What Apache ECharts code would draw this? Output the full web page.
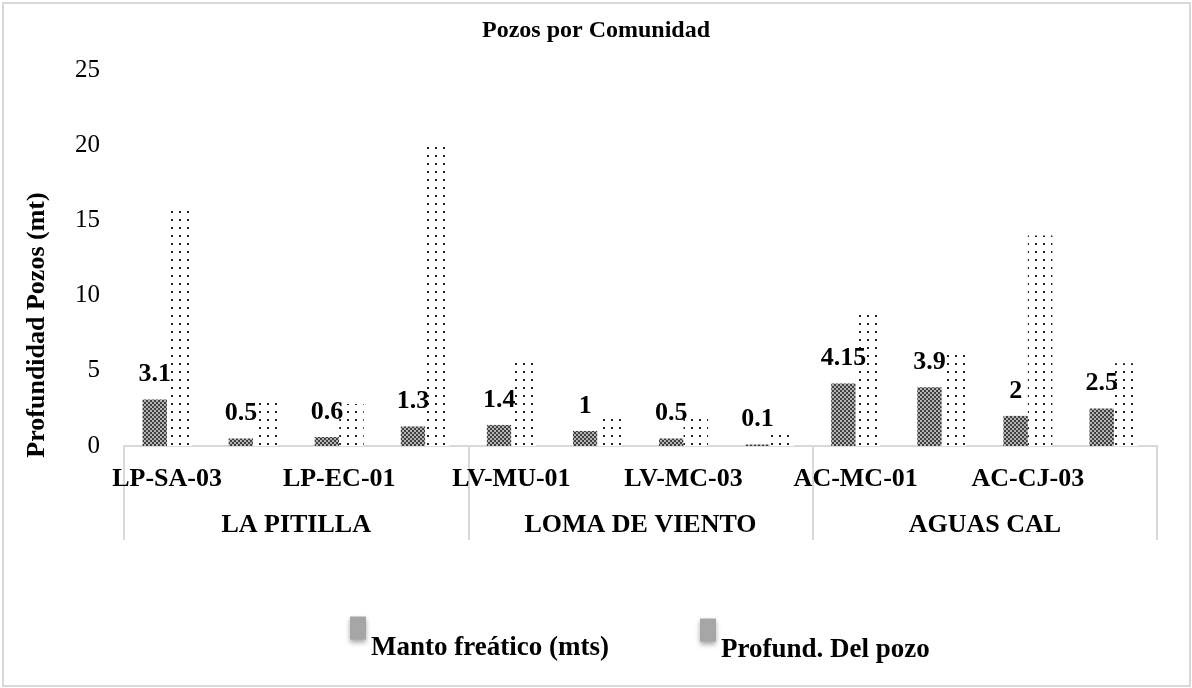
<!DOCTYPE html>
<html>
<head>
<meta charset="utf-8">
<script src="https://cdn.jsdelivr.net/npm/echarts@6/dist/echarts.min.js"></script>
<style>
  html, body { margin: 0; padding: 0; background: #fff; }
  #chart { width: 1192px; height: 688px; }
</style>
</head>
<body>
<div id="chart"></div>
<script>
// Pozos (12 categorías, sólo se ven las etiquetas alternas)
const pozos = ['LP-SA-03', 'LP-SA-04', 'LP-EC-01', 'LP-EC-02',
  'LV-MU-01', 'LV-MU-02', 'LV-MC-03', 'LV-MC-04',
  'AC-MC-01', 'AC-MC-02', 'AC-CJ-03', 'AC-CJ-04'];
// Comunidades (segundo nivel del eje)
const comunidades = ['LA PITILLA', 'LOMA DE VIENTO', 'AGUAS CAL'];
// Manto freático (mts)
const mantoFreatico = [3.1, 0.5, 0.6, 1.3, 1.4, 1, 0.5, 0.1, 4.15, 3.9, 2, 2.5];
// Profundidad del pozo
const profundPozo = [16, 3.2, 2.8, 20.2, 5.6, 1.8, 1.9, 1.0, 9.0, 6.4, 14, 5.5];
const yTicks = { min: 0, max: 25, interval: 5 };

const FONT = '"Liberation Serif", "Times New Roman", serif';

// trama cuadriculada oscura
function checkerPattern() {
  const c = document.createElement('canvas');
  c.width = 4; c.height = 4;
  const ctx = c.getContext('2d');
  ctx.fillStyle = '#3f3f3f';
  ctx.fillRect(0, 0, 4, 4);
  ctx.fillStyle = '#b5b5b5';
  ctx.fillRect(0, 0, 2, 2);
  ctx.fillRect(2, 2, 2, 2);
  return c;
}

// trama de puntos
function dotPattern() {
  const c = document.createElement('canvas');
  c.width = 8; c.height = 8;
  const ctx = c.getContext('2d');
  ctx.fillStyle = '#ffffff';
  ctx.fillRect(0, 0, 8, 8);
  ctx.fillStyle = '#222222';
  ctx.fillRect(3, 3, 2, 2);
  return c;
}

const chart = echarts.init(document.getElementById('chart'));

// el texto de la leyenda va más abajo que el marcador (línea vacía antes)
const legendBase = {
  orient: 'horizontal',
  icon: 'rect',
  itemWidth: 16,
  itemHeight: 23,
  itemGap: 10,
  itemStyle: {
    color: '#a6a6a6',
    borderWidth: 0,
    shadowBlur: 5,
    shadowColor: 'rgba(0,0,0,0.35)',
    shadowOffsetY: 3
  },
  formatter: function (name) { return '\n' + name; },
  textStyle: {
    fontFamily: FONT,
    fontWeight: 'bold',
    fontSize: 27,
    lineHeight: 40,
    color: '#000'
  }
};

chart.setOption({
  animation: false,
  backgroundColor: '#fff',
  title: {
    text: 'Pozos por Comunidad',
    left: 'center',
    top: 14,
    textStyle: { fontFamily: FONT, fontWeight: 'bold', fontSize: 24, color: '#000' }
  },
  legend: [
    Object.assign({}, legendBase, { data: ['Manto freático (mts)'], left: 345, top: 583 }),
    Object.assign({}, legendBase, { data: ['Profund. Del pozo'], left: 695, top: 585 })
  ],
  grid: { left: 124, right: 35, top: 70, bottom: 242, containLabel: false },
  xAxis: [
    {
      type: 'category',
      data: pozos,
      axisLine: { show: true, lineStyle: { color: '#d9d9d9', width: 2 } },
      axisTick: { show: false },
      axisLabel: {
        interval: 1,
        margin: 20,
        fontFamily: FONT,
        fontWeight: 'bold',
        fontSize: 26,
        color: '#000'
      }
    },
    {
      type: 'category',
      data: comunidades,
      position: 'bottom',
      axisLine: { show: false },
      axisTick: { show: true, length: 94, lineStyle: { color: '#d9d9d9', width: 2 } },
      axisLabel: {
        margin: 66,
        fontFamily: FONT,
        fontWeight: 'bold',
        fontSize: 26,
        color: '#000'
      }
    }
  ],
  yAxis: {
    type: 'value',
    min: yTicks.min,
    max: yTicks.max,
    interval: yTicks.interval,
    name: 'Profundidad Pozos (mt)',
    nameLocation: 'middle',
    nameRotate: 90,
    nameGap: 74,
    nameTextStyle: {
      fontFamily: FONT,
      fontWeight: 'bold',
      fontSize: 26,
      color: '#000',
      padding: [0, 134, 0, 0]
    },
    axisLine: { show: false },
    axisTick: { show: false },
    splitLine: { show: false },
    axisLabel: { margin: 24, fontFamily: FONT, fontSize: 25, color: '#000' }
  },
  series: [
    {
      name: 'Manto freático (mts)',
      type: 'bar',
      data: mantoFreatico,
      barWidth: 24.5,
      barGap: '0%',
      itemStyle: { color: { image: checkerPattern(), repeat: 'repeat' } },
      label: {
        show: true,
        position: 'top',
        distance: 12,
        fontFamily: FONT,
        fontWeight: 'bold',
        fontSize: 26,
        color: '#000'
      }
    },
    {
      name: 'Profund. Del pozo',
      type: 'bar',
      data: profundPozo,
      barWidth: 24.5,
      itemStyle: { color: { image: dotPattern(), repeat: 'repeat' } }
    }
  ],
  graphic: [
    {
      type: 'rect',
      shape: { x: 3, y: 3, width: 1187, height: 683 },
      style: { fill: 'none', stroke: '#d9d9d9', lineWidth: 2 },
      silent: true,
      z: -1
    }
  ]
});
</script>
</body>
</html>
